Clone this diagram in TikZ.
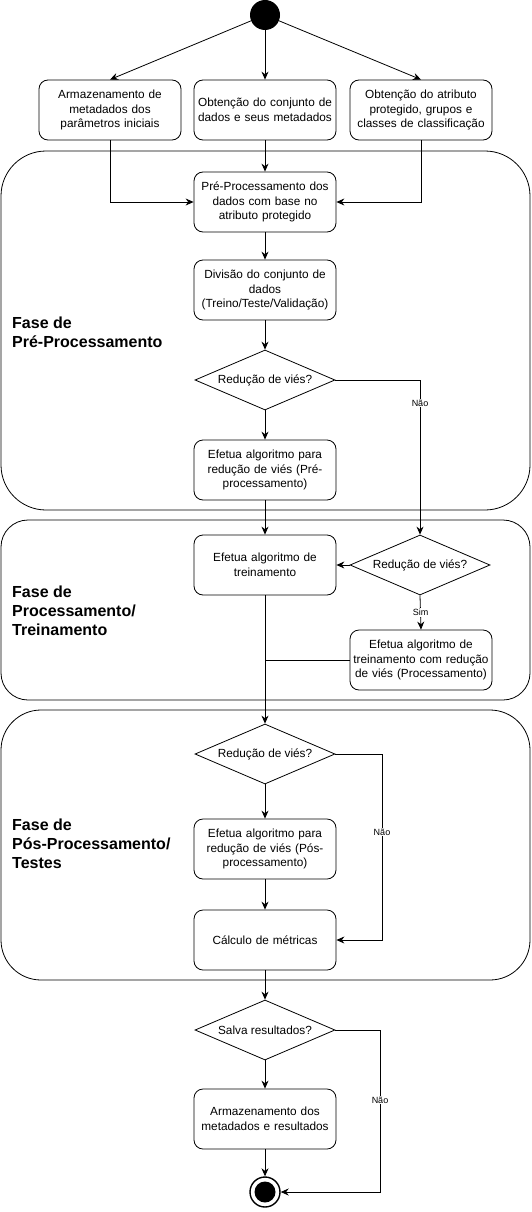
\documentclass[tikz,border=0pt]{standalone}
\usepackage{fontspec}
\setmainfont{Liberation Sans}
\usetikzlibrary{shapes.geometric,arrows.meta}
\begin{document}
\begin{tikzpicture}[x=1pt,y=-1pt,
  every node/.style={font=\fontsize{11.8}{14.8}\selectfont},
  box/.style={draw,line width=0.8,rounded corners=9,minimum width=140,minimum height=60,inner sep=1,align=center,text width=140},
  dec/.style={draw,line width=0.8,diamond,shape aspect=2.33,minimum width=140,minimum height=60,inner sep=0,align=center},
  arr/.style={-{Stealth[length=8,width=7]},line width=0.8},
  ln/.style={line width=0.8},
  frame/.style={draw,line width=0.8},
  phase/.style={anchor=west,inner sep=0,align=left,font=\fontsize{16}{19}\selectfont\bfseries},
  lbl/.style={fill=white,inner sep=1,font=\fontsize{9}{10}\selectfont}]
\useasboundingbox (0,0) rectangle (532,1212);
% frames
\draw[frame,rounded corners=45] (1,151) rectangle (530,510);
\draw[frame,rounded corners=27] (1,520) rectangle (530,700);
\draw[frame,rounded corners=40] (1,710) rectangle (530,980);
\node[phase] (p1) at (12,332) {Fase de\\Pré-Processamento};
\node[phase] (p2) at (12,611) {Fase de\\Processamento/\\Treinamento};
\node[phase] (p3) at (12,844) {Fase de\\Pós-Processamento/\\Testes};
% nodes
\node[circle,fill=black,minimum size=30,inner sep=0] (start) at (265,15) {};
\node[box] (b1) at (110,110) {Armazenamento de\\metadados dos\\parâmetros iniciais};
\node[box] (b2) at (265,110) {Obtenção do conjunto de\\dados e seus metadados};
\node[box] (b3) at (421,110) {Obtenção do atributo\\protegido, grupos e\\classes de classificação};
\node[box] (pre) at (265,202) {Pré-Processamento dos\\dados com base no\\atributo protegido};
\node[box] (div) at (265,290) {Divisão do conjunto de\\dados\\(Treino/Teste/Validação)};
\node[dec] (d1) at (265,380) {Redução de viés?};
\node[box] (eb1) at (265,470) {Efetua algoritmo para\\redução de viés (Pré-\\processamento)};
\node[box] (tr) at (265,565) {Efetua algoritmo de\\treinamento};
\node[dec] (d2) at (420,565) {Redução de viés?};
\node[box,minimum width=138] (trr) at (421,660) {Efetua algoritmo de\\treinamento com redução\\de viés (Processamento)};
\node[dec] (d3) at (265,754) {Redução de viés?};
\node[box] (pos) at (265,849) {Efetua algoritmo para\\redução de viés (Pós-\\processamento)};
\node[box] (calc) at (265,940) {Cálculo de métricas};
\node[dec] (d4) at (265,1030) {Salva resultados?};
\node[box] (arm) at (265,1119) {Armazenamento dos\\metadados e resultados};
\node[circle,draw,line width=1.4,minimum size=30,inner sep=0] (end) at (265,1192) {};
\node[circle,fill=black,minimum size=21,inner sep=0] (endin) at (265,1192) {};
% coordinates
\coordinate (c1) at (420,380);
\coordinate (c3) at (382,754);
\coordinate (c4) at (380,1030);
% edges
\draw[arr] (start) -- (b1.north);
\draw[arr] (start) -- (b2.north);
\draw[arr] (start) -- (b3.north);
\draw[arr] (b2) -- (pre);
\draw[arr] (b1.south) |- (pre.west);
\draw[arr] (b3.south) |- (pre.east);
\draw[arr] (pre) -- (div);
\draw[arr] (div) -- (d1);
\draw[arr] (d1) -- (eb1);
\draw[arr] (eb1) -- (tr);
\draw[arr] (d1.east) -- (c1) -- node[lbl,pos=0.15] {Não} (d2.north);
\draw[arr] (d2.west) -- (tr.east);
\draw[arr] (d2.south) -- node[lbl] {Sim} (trr.north);
\draw[ln] (trr.west) -- (trr.west -| tr.south);
\draw[arr] (tr.south) -- (d3.north);
\draw[arr] (d3) -- (pos);
\draw[arr] (pos) -- (calc);
\draw[arr] (d3.east) -- (c3) |- node[lbl,pos=0.21] {Não} (calc.east);
\draw[arr] (calc) -- (d4);
\draw[arr] (d4) -- (arm);
\draw[arr] (arm) -- (end);
\draw[arr] (d4.east) -- (c4) |- node[lbl,pos=0.216] {Não} (end.east);
\end{tikzpicture}
\end{document}
